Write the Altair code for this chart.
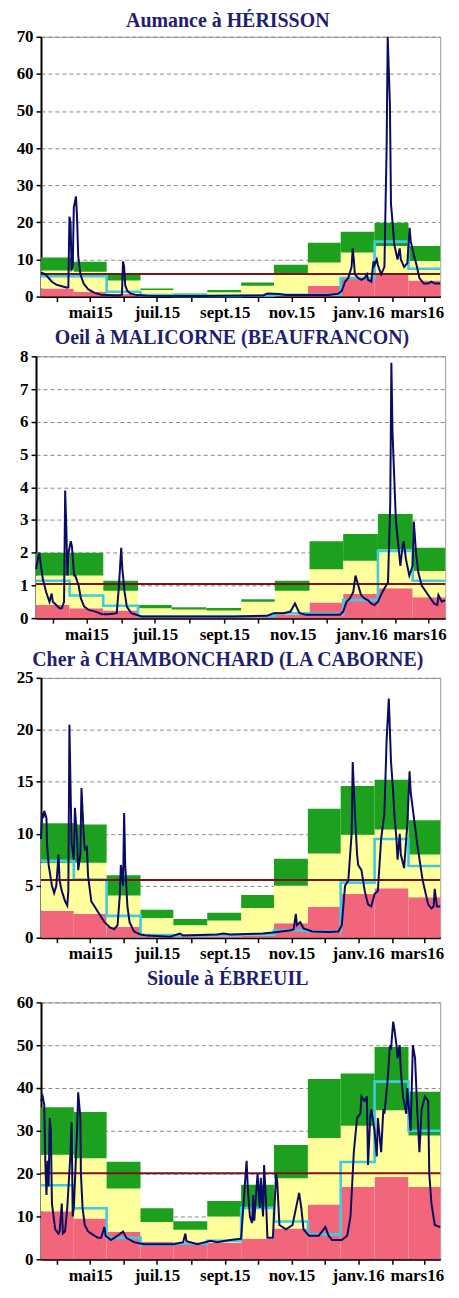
import altair as alt
import pandas as pd

# x axis: days counted from 2015-03-17 (left edge) to 2016-03-16 (right edge)
BLOCK_EDGES = [0, 30, 60, 91, 121, 152, 183, 213, 244, 274, 305, 336, 365]  # 16th of each month
MONTH_TICKS = [15, 45, 76, 106, 137, 168, 198, 229, 259, 290, 321, 350]      # 1st of each month
LABEL_DAYS = [45, 106, 168, 229, 290, 350]
LABEL_TEXT = ["mai15", "juil.15", "sept.15", "nov.15", "janv.16", "mars16"]

# ---------------- Aumance à HÉRISSON ----------------
AUM_RED = [2.2, 1.3, 0.7, 0.4, 0.1, 0.2, 0.4, 0.6, 2.9, 5.0, 5.8, 4.3]
AUM_YEL = [7.0, 6.7, 4.3, 1.8, 0.5, 1.2, 2.9, 6.1, 9.2, 11.9, 13.6, 9.6]
AUM_GRN = [10.5, 9.4, 5.8, 2.2, 0.8, 1.8, 3.8, 8.6, 14.5, 17.5, 19.9, 13.6]
AUM_CYAN = [5.5, 5.5, 1.3, 0.4, 0.2, 0.2, 0.3, 0.5, 0.5, 5.0, 14.8, 7.5]
AUM_MODULE = 6.1
AUM_DAYS = [0, 4, 10, 14, 19, 24, 25, 26, 27, 28, 29, 30, 32, 33, 34, 36, 39, 43, 49, 55,
            61, 70, 74, 75, 76, 77, 79, 82, 88, 97, 143, 203, 207, 218, 224, 263, 272, 275, 278, 281,
            284, 285, 286, 287, 290, 293, 296, 298, 299, 302, 304, 305, 307, 308, 311, 314, 316, 317, 319, 320,
            322, 323, 326, 328, 329, 332, 335, 337, 338, 341, 343, 346, 350, 354, 357, 360, 365]
AUM_FLOW = [6.5, 6.0, 4.0, 3.2, 2.8, 2.4, 2.5, 21.5, 20, 7.5, 8, 24, 27, 21, 11, 6, 3.5, 2, 1, 0.5,
            0.4, 0.3, 0.5, 9.5, 8, 3, 1.5, 0.8, 0.4, 0.2, 0.15, 0.3, 0.8, 0.7, 0.4, 0.4, 0.8, 1.5, 4, 5,
            8, 13, 10, 6, 5, 4.5, 5, 6, 4.5, 4, 9.5, 8.5, 10, 8.5, 6, 8, 40, 70, 52, 25,
            18, 14, 10, 13, 10, 8, 9, 18.5, 15, 11, 9, 5, 3.5, 3.5, 4, 3.5, 3.5]

# ---------------- Oeil à MALICORNE ----------------
MAL_RED = [0.4, 0.3, 0.23, 0.05, 0.04, 0.04, 0.05, 0.1, 0.48, 0.74, 0.91, 0.64]
MAL_YEL = [1.3, 1.3, 0.84, 0.3, 0.26, 0.23, 0.5, 0.84, 1.49, 1.75, 2.1, 1.44]
MAL_GRN = [2.0, 2.0, 1.14, 0.4, 0.33, 0.31, 0.58, 1.14, 2.35, 2.57, 3.18, 2.15]
MAL_CYAN = [1.14, 0.69, 0.38, 0.05, 0.05, 0.05, 0.06, 0.15, 0.13, 0.55, 2.05, 1.14]
MAL_MODULE = 1.04
MAL_DAYS = [0, 1.5, 3, 4, 6, 9, 12, 14, 15, 18, 21, 23, 25, 26, 27, 28, 29, 31, 32, 34,
            35, 38, 40, 43, 47, 53, 59, 65, 72, 74, 76, 77, 79, 81, 85, 94, 118, 177, 206, 212,
            221, 227, 231, 233, 235, 241, 271, 274, 277, 280, 283, 285, 287, 290, 293, 296, 299, 302, 305, 309,
            314, 316, 317, 318, 320, 321, 323, 325, 327, 328, 330, 333, 336, 337, 339, 341, 344, 350, 355, 358,
            359, 362, 365]
MAL_FLOW = [1.5, 1.8, 2.0, 1.7, 1.2, 0.8, 0.5, 0.75, 0.5, 0.4, 0.3, 0.3, 0.5, 3.9, 2.8, 1.3, 2.0, 2.35, 2.2, 1.3,
            1.3, 1.0, 0.6, 0.35, 0.25, 0.2, 0.12, 0.12, 0.15, 1.0, 2.15, 1.5, 0.8, 0.35, 0.15, 0.05, 0.05, 0.05, 0.07, 0.15,
            0.15, 0.2, 0.45, 0.3, 0.15, 0.1, 0.1, 0.2, 0.5, 0.6, 0.8, 1.3, 1.05, 0.7, 0.6, 0.55, 0.45, 0.4, 0.5, 0.8,
            1.1, 3.5, 7.8, 5.7, 3.9, 3.0, 2.3, 1.6, 2.2, 2.35, 1.8, 1.3, 1.6, 2.95, 2.0, 1.4, 1.0, 0.7, 0.45, 0.4,
            0.7, 0.5, 0.55]

# ---------------- Cher à CHAMBONCHARD ----------------
CHA_RED = [2.6, 2.3, 1.05, 0.2, 0.15, 0.15, 0.2, 1.4, 2.95, 4.2, 4.75, 3.9]
CHA_YEL = [7.2, 7.2, 4.05, 1.9, 1.2, 1.65, 2.85, 5.0, 8.1, 9.9, 10.4, 8.0]
CHA_GRN = [11.0, 10.9, 6.0, 2.7, 1.8, 2.4, 4.1, 7.6, 12.4, 14.6, 15.2, 11.3]
CHA_CYAN = [7.4, 5.6, 2.1, 0.25, 0.2, 0.25, 0.3, 0.7, 0.6, 5.3, 9.5, 6.9]
CHA_MODULE = 5.55
CHA_DAYS = [0, 1, 2, 3, 5, 5.5, 7, 10, 12, 14, 16, 17, 19, 22, 24, 25, 26, 27, 28, 30,
            31, 33, 34, 36, 37, 39, 40, 42, 43, 46, 52, 58, 63, 67, 70, 72, 73, 75, 76, 77,
            79, 81, 85, 91, 97, 118, 127, 130, 161, 167, 173, 203, 212, 227, 231, 233, 234, 237, 240, 248,
            263, 272, 275, 278, 281, 284, 285, 287, 289, 290, 293, 296, 299, 302, 305, 308, 311, 314, 316, 318,
            320, 322, 323, 325, 326, 328, 329, 332, 335, 337, 338, 341, 344, 349, 354, 357, 359, 360, 362, 365]
CHA_FLOW = [9.5, 12, 11.5, 12.2, 11.5, 9, 7, 5, 4.3, 5, 8, 5.5, 4.5, 3.5, 3.1, 4.5, 20.5, 14.5, 9, 7.5,
            12.5, 9.5, 6.5, 8, 14.4, 10, 8.5, 8.7, 6, 3.5, 2.5, 1.5, 1, 0.8, 1.2, 4, 7, 5, 12, 7,
            3, 1.5, 0.6, 0.3, 0.2, 0.1, 0.4, 0.2, 0.3, 0.4, 0.3, 0.4, 0.5, 0.7, 0.8, 2.3, 1.2, 1.5, 0.9, 0.6,
            0.55, 0.6, 1.2, 5, 5.5, 10, 16.9, 12, 8, 7, 6.5, 4.5, 3.2, 3, 4.2, 4.5, 9.5, 12, 19, 23,
            17, 14, 12, 9.5, 7.5, 10, 8, 6.7, 11, 16, 14, 11.5, 9, 5.5, 3.2, 2.8, 3, 4.7, 3, 3]

# ---------------- Sioule à ÉBREUIL ----------------
SIO_RED = [11.2, 9.5, 6.4, 4.1, 3.8, 3.8, 4.8, 7.2, 12.8, 16.9, 19.2, 16.9]
SIO_YEL = [24.4, 23.6, 16.5, 8.7, 6.9, 10.0, 12.1, 18.9, 28.3, 31.2, 34.8, 28.9]
SIO_GRN = [35.5, 34.4, 22.8, 11.9, 8.9, 13.6, 17.4, 26.7, 42.1, 43.4, 49.6, 39.1]
SIO_CYAN = [17.3, 11.9, 5.0, 3.4, 3.6, 4.3, 12.0, 8.8, 5.8, 22.7, 41.5, 30.0]
SIO_MODULE = 20.1
SIO_DAYS = [0, 1.5, 3, 4, 5, 6, 7, 8, 9, 10, 11, 13, 16, 17, 19, 20, 22, 24, 27, 28,
            29, 30, 33, 34, 36, 36.5, 38, 40, 43, 46, 52, 55, 58, 59, 64, 70, 75, 78, 85, 94,
            121, 130, 132, 133, 143, 155, 161, 173, 183, 186, 188, 189, 191, 193, 194, 195, 198, 200, 201, 203,
            204, 206, 207, 212, 215, 216, 218, 224, 230, 236, 238, 240, 245, 254, 260, 263, 266, 275, 280, 283,
            286, 289, 292, 293, 296, 298, 299, 301, 302, 305, 307, 308, 311, 313, 314, 317, 319, 320, 322, 323,
            325, 326, 328, 329, 331, 334, 335, 338, 340, 342, 344, 346, 348, 351, 354, 355, 357, 360, 365]
SIO_FLOW = [37, 38, 36, 22, 15, 23, 17, 33, 30, 13, 11, 7, 6, 6.5, 13, 6, 6.5, 12, 25, 32,
            10, 12, 30, 39, 33, 20, 12, 8, 6.5, 6, 5, 5, 7.5, 5.5, 4.5, 5.5, 6.5, 5, 4, 3.5,
            3.5, 4, 6, 4.2, 3.5, 4.3, 4, 4.5, 4.8, 16, 23, 17, 10, 8.5, 15, 9, 20, 12, 19, 10,
            22, 12, 5, 5, 20, 18, 8, 7, 8, 15.5, 12, 7, 5.5, 5.5, 7.5, 5.5, 4.5, 4.5, 5.5, 10,
            25, 33, 34, 38, 37, 38, 22, 33, 35, 30, 24, 33, 25, 35, 34, 42, 50, 49, 55.5, 54,
            50, 47, 50, 44, 38, 34, 40, 30, 50, 47, 35, 25, 35, 38, 37, 20, 13, 8, 7.5]

RED = "#F2667C"
YELLOW = "#FFFF9C"
GREEN = "#1DA01D"
CYAN = "#3FCBE2"
NAVY = "#0B0B62"
MODULE_COLOR = "#7A1414"
TITLE_COLOR = "#1E1E72"
FONT = "Liberation Serif"

label_expr = " : ".join(
    f"datum.value == {d} ? '{t}'" for d, t in zip(LABEL_DAYS, LABEL_TEXT)
) + " : ''"


def panel(title, ymax, ystep, module, red, yel, grn, cyan, days, flow, width, height, toff, last_shift):
    blocks = pd.DataFrame({
        "start": BLOCK_EDGES[:-1], "end": BLOCK_EDGES[1:],
        "zero": [0] * 12, "red": red, "yel": yel, "grn": grn,
    })
    steps = pd.DataFrame({"day": BLOCK_EDGES, "v": list(cyan) + [cyan[-1]]})
    series = pd.DataFrame({"day": days, "q": flow})
    mod = pd.DataFrame({"m": [module]})

    xs = alt.Scale(domain=[0, 365], nice=False, zero=False)
    ys = alt.Scale(domain=[0, ymax], nice=False)
    xa = alt.Axis(values=MONTH_TICKS, labelExpr=label_expr, title=None, grid=False,
                  labelOverlap=False, labelFlush=False, labelPadding=3,
                  labelOffset={"condition": {"test": f"datum.value == {LABEL_DAYS[-1]}", "value": last_shift},
                               "value": 0})
    ya = alt.Axis(values=list(range(0, ymax + 1, ystep)), title=None, grid=True,
                  labelOverlap=False, labelFlush=False, labelPadding=3)

    def X(f):
        return alt.X(f, type="quantitative", scale=xs, axis=xa)

    def Y(f):
        return alt.Y(f, type="quantitative", scale=ys, axis=ya)

    b = alt.Chart(blocks)
    l_red = b.mark_rect(color=RED).encode(x=X("start"), x2="end", y=Y("zero"), y2="red")
    l_yel = b.mark_rect(color=YELLOW).encode(x=X("start"), x2="end", y=Y("red"), y2="yel")
    l_grn = b.mark_rect(color=GREEN).encode(x=X("start"), x2="end", y=Y("yel"), y2="grn")
    l_cyan = alt.Chart(steps).mark_line(color=CYAN, strokeWidth=2.6, interpolate="step-after").encode(
        x=X("day"), y=Y("v"))
    l_mod = alt.Chart(mod).mark_rule(color=MODULE_COLOR, strokeWidth=2).encode(y=Y("m"))
    l_flow = alt.Chart(series).mark_line(color=NAVY, strokeWidth=2).encode(x=X("day"), y=Y("q"))

    return alt.layer(l_red, l_yel, l_grn, l_cyan, l_mod, l_flow).properties(
        width=width, height=height,
        title=alt.TitleParams(title, font=FONT, fontSize=20, fontWeight="bold", color=TITLE_COLOR,
                              anchor="middle", frame="bounds", offset=toff, dx=-3),
    )


p1 = panel("Aumance à HÉRISSON", 70, 10, AUM_MODULE, AUM_RED, AUM_YEL, AUM_GRN, AUM_CYAN,
           AUM_DAYS, AUM_FLOW, 401, 261, -3, -7)
p2 = panel("Oeil à MALICORNE (BEAUFRANCON)", 8, 1, MAL_MODULE, MAL_RED, MAL_YEL, MAL_GRN, MAL_CYAN,
           MAL_DAYS, MAL_FLOW, 411, 263, -1, -9)
p3 = panel("Cher à CHAMBONCHARD (LA CABORNE)", 25, 5, CHA_MODULE, CHA_RED, CHA_YEL, CHA_GRN, CHA_CYAN,
           CHA_DAYS, CHA_FLOW, 401, 261, -1, -7)
p4 = panel("Sioule à ÉBREUIL", 60, 10, SIO_MODULE, SIO_RED, SIO_YEL, SIO_GRN, SIO_CYAN,
           SIO_DAYS, SIO_FLOW, 401, 258, 4, -7)

chart = alt.vconcat(p1, p2, p3, p4, spacing=6, center=True).properties(
    padding={"left": 7, "top": -1, "right": 0, "bottom": 0},
    background="white",
).configure_view(stroke="#999999", strokeWidth=1).configure_axis(
    labelFont=FONT, labelFontWeight="bold", labelFontSize=17, labelColor="black",
    domainColor="black", domainWidth=2, tickColor="black", tickSize=5, tickWidth=1.5,
    gridColor="#888888", gridDash=[4, 3], gridWidth=1,
)

chart.save("out.html", embed_options={"renderer": "svg", "actions": False})
